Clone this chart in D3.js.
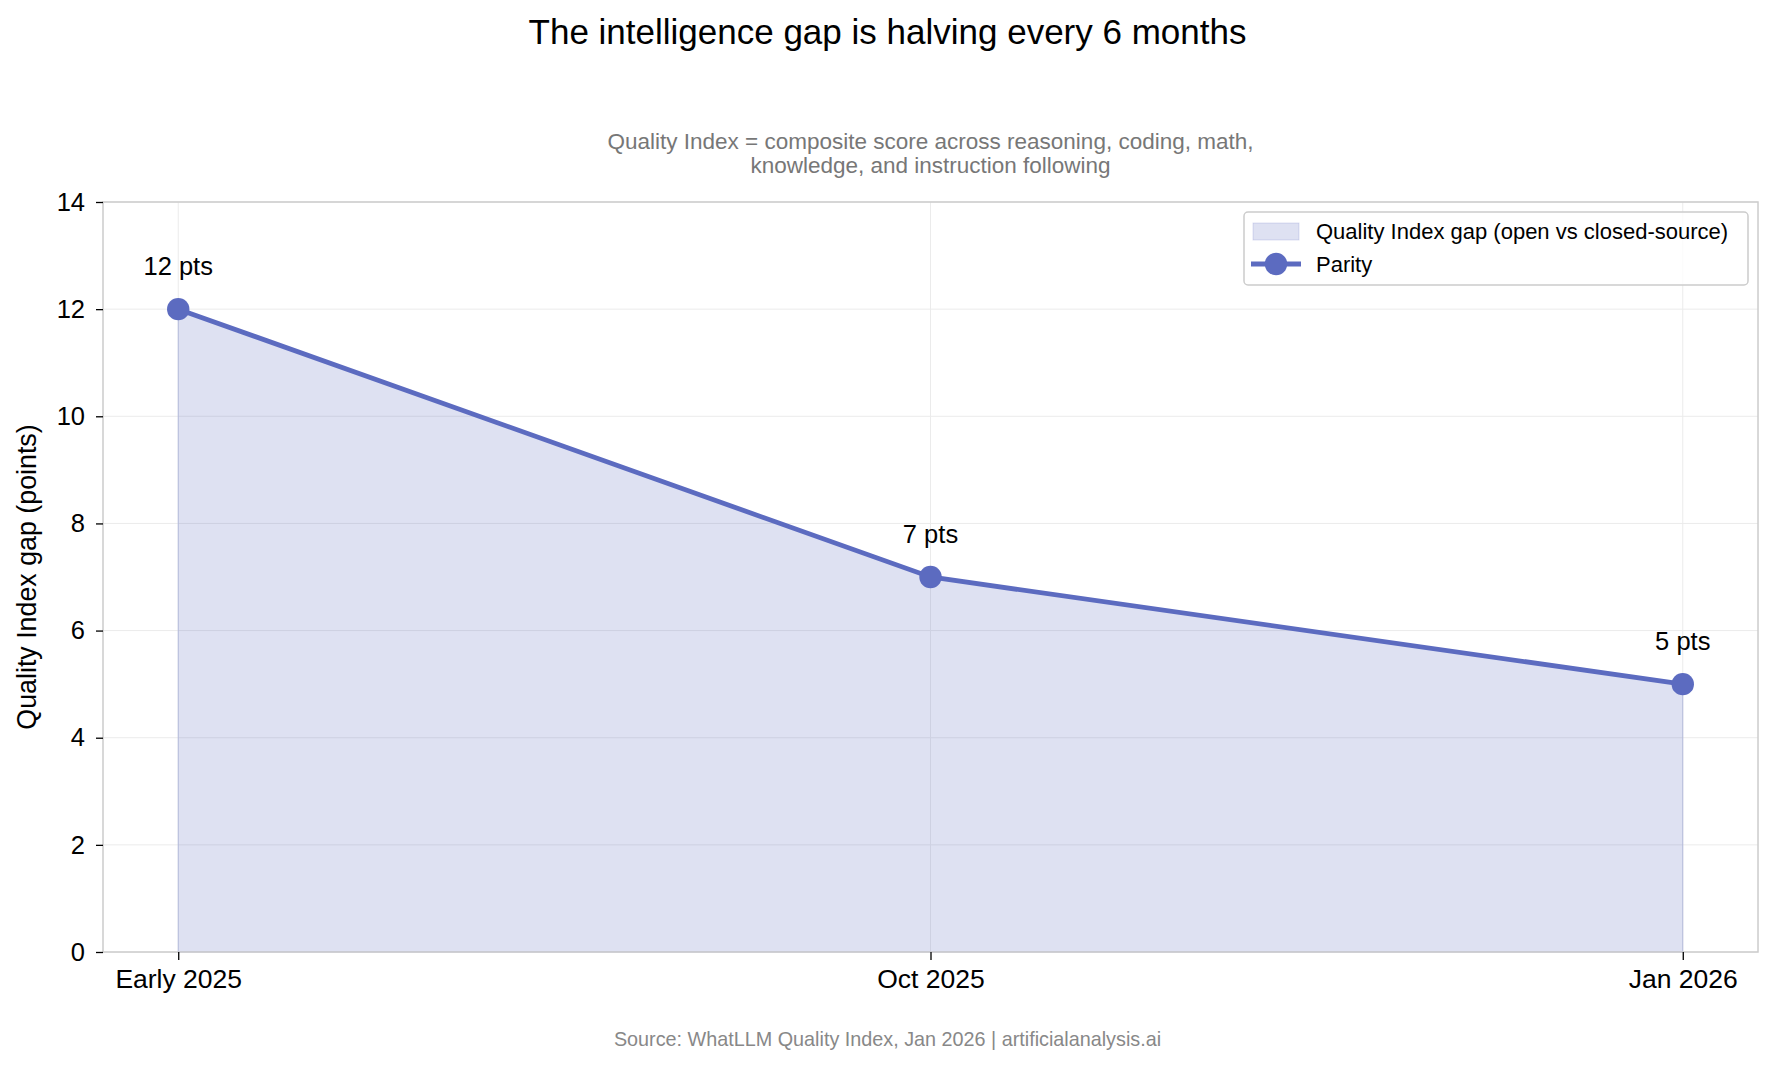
<!DOCTYPE html>
<html>
<head>
<meta charset="utf-8">
<script src="https://cdn.jsdelivr.net/npm/d3@7"></script>
<style>
  body { margin: 0; background: #fff; }
  svg { font-family: "Liberation Sans", Arial, Helvetica, sans-serif; }
</style>
</head>
<body>
<div id="chart"></div>
<script>
// data
const periods = ["Early 2025", "Oct 2025", "Jan 2026"];
const gapValues = [12, 7, 5];
const gapLabels = ["12 pts", "7 pts", "5 pts"];
const yTicks = [0, 2, 4, 6, 8, 10, 12, 14];

const width = 1775, height = 1069;
const margin = {top: 202, right: 17, bottom: 117, left: 103};
const innerW = width - margin.left - margin.right;
const innerH = height - margin.top - margin.bottom;
const lineColor = "#5c6bc0";
const font = "'Liberation Sans', Arial, sans-serif";

const svg = d3.select("#chart").append("svg")
    .attr("width", width)
    .attr("height", height);

const g = svg.append("g")
    .attr("transform", `translate(${margin.left},${margin.top})`);

// x is index based, with a 5% pad either side like matplotlib
const x = d3.scaleLinear()
    .domain([-0.1, periods.length - 1 + 0.1])
    .range([0, innerW]);

const y = d3.scaleLinear()
    .domain([0, 14])
    .range([innerH, 0]);

const data = periods.map((p, i) => ({period: p, i: i, value: gapValues[i], label: gapLabels[i]}));

// grid
g.append("g").selectAll("line")
    .data(yTicks)
    .enter().append("line")
    .attr("x1", 0).attr("x2", innerW)
    .attr("y1", d => y(d)).attr("y2", d => y(d))
    .style("stroke", "#ebebeb").style("stroke-width", 1);

g.append("g").selectAll("line")
    .data(data)
    .enter().append("line")
    .attr("x1", d => x(d.i)).attr("x2", d => x(d.i))
    .attr("y1", 0).attr("y2", innerH)
    .style("stroke", "#ebebeb").style("stroke-width", 1);

// filled area under the gap
const area = d3.area()
    .x(d => x(d.i))
    .y0(y(0))
    .y1(d => y(d.value));

g.append("path")
    .datum(data)
    .attr("d", area)
    .style("fill", lineColor)
    .style("fill-opacity", 0.2)
    .style("stroke", lineColor)
    .style("stroke-opacity", 0.2)
    .style("stroke-width", 1.5);

// line + markers
const line = d3.line()
    .x(d => x(d.i))
    .y(d => y(d.value));

g.append("path")
    .datum(data)
    .attr("d", line)
    .style("fill", "none")
    .style("stroke", lineColor)
    .style("stroke-width", 4.8);

g.selectAll("circle.point")
    .data(data)
    .enter().append("circle")
    .attr("class", "point")
    .attr("cx", d => x(d.i))
    .attr("cy", d => y(d.value))
    .attr("r", 11.2)
    .style("fill", lineColor);

// value labels
g.selectAll("text.valueLabel")
    .data(data)
    .enter().append("text")
    .attr("x", d => x(d.i))
    .attr("y", d => y(d.value) - 34)
    .attr("text-anchor", "middle")
    .style("font-size", "25.5px")
    .style("fill", "#000")
    .text(d => d.label);

// frame
g.append("rect")
    .attr("x", 0).attr("y", 0)
    .attr("width", innerW).attr("height", innerH)
    .style("fill", "none")
    .style("stroke", "#cccccc")
    .style("stroke-width", 1.5);

// axes
const yAxis = g.append("g")
    .call(d3.axisLeft(y).tickValues(yTicks).tickSize(7).tickPadding(11).tickFormat(d3.format("d")));
yAxis.select(".domain").remove();
yAxis.selectAll("line").style("stroke", "#000").style("stroke-width", 1.3);
yAxis.selectAll("text").style("font-size", "25.5px").style("fill", "#000")
    .style("font-family", font);

const xAxis = g.append("g")
    .attr("transform", `translate(0,${innerH})`)
    .call(d3.axisBottom(x).tickValues(data.map(d => d.i)).tickSize(8).tickPadding(9)
        .tickFormat(i => periods[i]));
xAxis.select(".domain").remove();
xAxis.selectAll("line").style("stroke", "#000").style("stroke-width", 1.3);
xAxis.selectAll("text").style("font-size", "26.5px").style("fill", "#000")
    .style("font-family", font);

// y label
svg.append("text")
    .attr("transform", `translate(36,${margin.top + innerH / 2}) rotate(-90)`)
    .attr("text-anchor", "middle")
    .style("font-size", "26.8px")
    .text("Quality Index gap (points)");

// title
svg.append("text")
    .attr("x", width / 2)
    .attr("y", 44)
    .attr("text-anchor", "middle")
    .style("font-size", "35px")
    .style("fill", "#000")
    .text("The intelligence gap is halving every 6 months");

// subtitle
const subLines = ["Quality Index = composite score across reasoning, coding, math,",
                  "knowledge, and instruction following"];
svg.append("g").selectAll("text")
    .data(subLines)
    .enter().append("text")
    .attr("x", margin.left + innerW / 2)
    .attr("y", (d, i) => 149 + i * 24)
    .attr("text-anchor", "middle")
    .style("font-size", "22.5px")
    .style("fill", "#777")
    .text(d => d);

// source
svg.append("text")
    .attr("x", width / 2)
    .attr("y", 1046)
    .attr("text-anchor", "middle")
    .style("font-size", "19.8px")
    .style("fill", "#888")
    .text("Source: WhatLLM Quality Index, Jan 2026 | artificialanalysis.ai");

// legend
const legend = svg.append("g").attr("transform", "translate(1244,212)");
legend.append("rect")
    .attr("width", 504).attr("height", 73)
    .attr("rx", 4)
    .style("fill", "#fff").style("fill-opacity", 0.8)
    .style("stroke", "#cccccc").style("stroke-width", 1.5);
legend.append("rect")
    .attr("x", 9).attr("y", 11).attr("width", 46).attr("height", 17)
    .style("fill", lineColor).style("fill-opacity", 0.2)
    .style("stroke", lineColor).style("stroke-opacity", 0.2);
legend.append("text")
    .attr("x", 72).attr("y", 27)
    .style("font-size", "22px")
    .text("Quality Index gap (open vs closed-source)");
legend.append("line")
    .attr("x1", 7).attr("x2", 57).attr("y1", 52).attr("y2", 52)
    .style("stroke", lineColor).style("stroke-width", 4.8);
legend.append("circle")
    .attr("cx", 32).attr("cy", 52).attr("r", 11.2)
    .style("fill", lineColor);
legend.append("text")
    .attr("x", 72).attr("y", 60)
    .style("font-size", "22px")
    .text("Parity");
</script>
</body>
</html>
